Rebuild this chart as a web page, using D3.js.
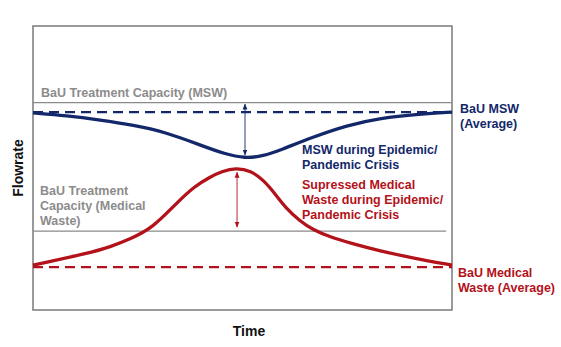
<!DOCTYPE html>
<html>
<head>
<meta charset="utf-8">
<script src="https://cdn.jsdelivr.net/npm/d3@7"></script>
<style>
  body { margin: 0; background: #fff; }
  text { font-family: "Liberation Sans", Arial, sans-serif; font-weight: bold; }
</style>
</head>
<body>
<div id="chart"></div>
<script>
// time axis (0-100) and flowrate (0-100)
const time = [0, 8, 16, 24, 31.5, 39.9, 45.8, 50.6, 55, 59, 66.8, 74.9, 82.8, 92.4, 100];
const msw = [69.4, 68.4, 66.9, 65.1, 62.7, 58.1, 54.9, 53.4, 54.2, 56.3, 60.9, 65.0, 67.6, 69.0, 69.7];

const medTime = [0, 13.6, 18.4, 23.2, 28.5, 34.5, 38.5, 42.2, 45, 48.5, 52, 55, 58, 60.1, 63.7, 66.8, 70.9, 75.7, 82.8, 90.7, 100];
const medical = [15.8, 20.1, 22.2, 25.0, 28.8, 38.0, 43.5, 46.8, 48.8, 50.1, 49.0, 45.8, 40.5, 36.3, 31.3, 28.3, 25.7, 23.6, 20.8, 18.3, 15.8];

const mswCapacity = 73;
const mswAverage = 69.7;
const medCapacity = 27.8;
const medAverage = 15.1;

// arrows: [time, from, to]
const mswGap = [50.6, 72.5, 54.6];
const medGap = [48.7, 48.5, 29.2];

const navy = '#13286a', red = '#b3121a', gray = '#8c8c8c';

const figure_width = 561, figure_height = 347;
const plot_margin = { top: 26, right: 109, bottom: 37, left: 33 },
    plot_width = figure_width - plot_margin.left - plot_margin.right,
    plot_height = figure_height - plot_margin.top - plot_margin.bottom;

const root = d3.select('#chart')
  .append('svg')
    .attr('width', figure_width)
    .attr('height', figure_height);

const defs = root.append('defs');
[['arrNavy', navy], ['arrRed', red]].forEach(function(m) {
  defs.append('marker')
    .attr('id', m[0])
    .attr('viewBox', '0 0 10 10')
    .attr('refX', 9).attr('refY', 5)
    .attr('markerWidth', 6).attr('markerHeight', 6)
    .attr('markerUnits', 'userSpaceOnUse')
    .attr('orient', 'auto-start-reverse')
    .append('path')
      .attr('d', 'M0,1 L10,5 L0,9 Z')
      .attr('fill', m[1]);
});

const svg = root.append('g')
  .attr('transform', 'translate(' + plot_margin.left + ',' + plot_margin.top + ')');

const x = d3.scaleLinear().domain([0, 100]).range([0, plot_width]);
const y = d3.scaleLinear().domain([0, 100]).range([plot_height, 0]);

// frame
svg.append('rect')
  .attr('x', 0).attr('y', 0)
  .attr('width', plot_width).attr('height', plot_height)
  .attr('fill', 'none')
  .attr('stroke', '#7a7a7a')
  .attr('stroke-width', 1.5);

// capacity lines
svg.append('line')
  .attr('x1', x(0)).attr('x2', x(100))
  .attr('y1', y(mswCapacity)).attr('y2', y(mswCapacity))
  .attr('stroke', '#8a8a8a').attr('stroke-width', 1.2);
svg.append('line')
  .attr('x1', x(0)).attr('x2', x(98.6))
  .attr('y1', y(medCapacity)).attr('y2', y(medCapacity))
  .attr('stroke', '#8a8a8a').attr('stroke-width', 1.2);

// average dashed lines
svg.append('line')
  .attr('x1', x(0)).attr('x2', x(100))
  .attr('y1', y(mswAverage)).attr('y2', y(mswAverage))
  .attr('stroke', navy).attr('stroke-width', 2.2)
  .attr('stroke-dasharray', '10,6');
svg.append('line')
  .attr('x1', x(0)).attr('x2', x(100))
  .attr('y1', y(medAverage)).attr('y2', y(medAverage))
  .attr('stroke', red).attr('stroke-width', 2.2)
  .attr('stroke-dasharray', '10,6');

// curves
const line = d3.line()
  .x(function(d) { return x(d[0]); })
  .y(function(d) { return y(d[1]); })
  .curve(d3.curveBasis);

svg.append('path')
  .datum(d3.zip(time, msw))
  .attr('d', line)
  .attr('fill', 'none')
  .attr('stroke', navy)
  .attr('stroke-width', 3.3);

svg.append('path')
  .datum(d3.zip(medTime, medical))
  .attr('d', line)
  .attr('fill', 'none')
  .attr('stroke', red)
  .attr('stroke-width', 3.3);

// gap arrows
svg.append('line')
  .attr('x1', x(mswGap[0])).attr('x2', x(mswGap[0]))
  .attr('y1', y(mswGap[1])).attr('y2', y(mswGap[2]))
  .attr('stroke', navy).attr('stroke-width', 0.9)
  .attr('marker-start', 'url(#arrNavy)')
  .attr('marker-end', 'url(#arrNavy)');
svg.append('line')
  .attr('x1', x(medGap[0])).attr('x2', x(medGap[0]))
  .attr('y1', y(medGap[1])).attr('y2', y(medGap[2]))
  .attr('stroke', red).attr('stroke-width', 0.9)
  .attr('marker-start', 'url(#arrRed)')
  .attr('marker-end', 'url(#arrRed)');

// annotations
function label(lines, px, py, color) {
  const t = root.append('text')
    .attr('x', px).attr('y', py)
    .attr('fill', color)
    .style('font-size', '12.5px');
  lines.forEach(function(s, i) {
    t.append('tspan').attr('x', px).attr('dy', i === 0 ? 0 : 15).text(s);
  });
}

label(['BaU Treatment Capacity (MSW)'], 41, 97, gray);
label(['BaU MSW', '(Average)'], 460, 113, navy);
label(['MSW during Epidemic/', 'Pandemic Crisis'], 302, 154, navy);
label(['BaU Treatment', 'Capacity (Medical', 'Waste)'], 40, 195, gray);
label(['Supressed Medical', 'Waste during Epidemic/', 'Pandemic Crisis'], 302, 189, red);
label(['BaU Medical', 'Waste (Average)'], 458, 277, red);

// axis titles
root.append('text')
  .attr('x', 249).attr('y', 336)
  .attr('text-anchor', 'middle')
  .attr('fill', '#111')
  .style('font-size', '14px')
  .text('Time');

root.append('text')
  .attr('transform', 'translate(23,168) rotate(-90)')
  .attr('text-anchor', 'middle')
  .attr('fill', '#111')
  .style('font-size', '14px')
  .text('Flowrate');
</script>
</body>
</html>
